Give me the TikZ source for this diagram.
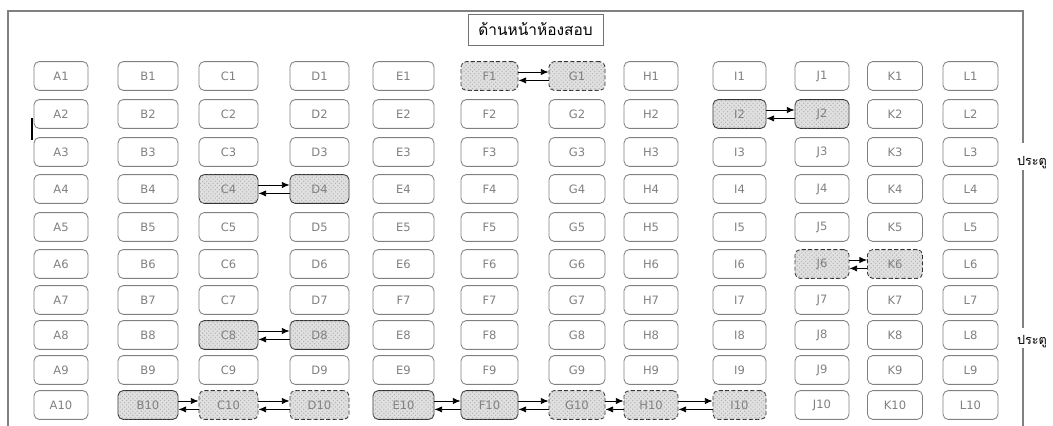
\documentclass[tikz,border=0pt]{standalone}
\usepackage{fontspec}
\setmainfont{DejaVu Sans}
\newfontfamily\thaifont[Script=Thai]{Loma}
\usetikzlibrary{arrows.meta, patterns}

\begin{document}
\begin{tikzpicture}[x=0.025cm, y=-0.025cm,
  seat/.style={rectangle, rounded corners=0.13cm, draw=black!50, line width=0.6pt,
               minimum height=0.72cm, inner sep=0pt, align=center,
               font=\fontsize{8.2}{9}\selectfont, text=black!50},
  taken/.style={draw=black!80, fill=black!12,
                postaction={pattern=crosshatch dots, pattern color=black!30}},
  takendash/.style={taken, dash pattern=on 3pt off 1.5pt},
  sign/.style={rectangle, draw=black!55, line width=0.6pt, minimum width=3.375cm,
               minimum height=0.775cm, font=\thaifont\fontsize{11}{13}\selectfont},
  door/.style={font=\thaifont\fontsize{9}{10}\selectfont, inner sep=0pt},
  wall/.style={draw=black!50, line width=1pt},
  arr/.style={-{Latex[length=5.5pt,width=4.5pt]}, line width=0.6pt},
  % marked seats
  sF1/.style=takendash, sG1/.style=takendash,
  sI2/.style=taken, sJ2/.style=taken,
  sC4/.style=taken, sD4/.style=taken,
  sJ6/.style=takendash, sK6/.style=takendash,
  sC8/.style=taken, sD8/.style=taken,
  sB10/.style=taken, sC10/.style=takendash, sD10/.style=takendash,
  sE10/.style=taken, sF10/.style=taken,
  sG10/.style=takendash, sH10/.style=takendash, sI10/.style=takendash,
  % printed label differs
  sE7/.style={execute at begin node={\def\seatlbl{F7}}}
]
\useasboundingbox (0,0) rectangle (1053,426);

% room
\draw[wall] (8,426) -- (8,11) -- (1023,11) -- (1023,143);
\draw[wall] (1023,170) -- (1023,328);
\draw[wall] (1023,348) -- (1023,426);
\draw[line width=0.8pt] (32,118) -- (32,140);

\node[sign] (front) at (535.5,29.5) {ด้านหน้าห้องสอบ};
\node[door] (door1) at (1032,163) {ประตู};
\node[door] (door2) at (1032,342) {ประตู};

% seats
\foreach \c/\x/\w in {A/61/54, B/148/60, C/228.5/59, D/319.5/59, E/403.5/61, F/489.5/57,
                      G/577/56, H/651/54, I/739.5/53, J/822/54, K/895/55, L/970.5/55}
  \foreach \r/\y in {1/76, 2/114, 3/152, 4/189, 5/227, 6/264, 7/300, 8/335, 9/370, 10/405} {
    \def\seatlbl{\c\r}
    \node[seat, minimum width={\w*0.025cm}, s\c\r/.try] (\c\r) at (\x,\y) {\seatlbl};
  }

% swaps
\foreach \a/\b in {F1/G1, I2/J2, C4/D4, C8/D8, J6/K6, B10/C10, C10/D10,
                   E10/F10, F10/G10, G10/H10, H10/I10} {
  \draw[arr] ([yshift=0.1cm]\a.east) -- ([yshift=0.1cm]\b.west);
  \draw[arr] ([yshift=-0.11cm]\b.west) -- ([yshift=-0.11cm]\a.east);
}
\end{tikzpicture}
\end{document}
